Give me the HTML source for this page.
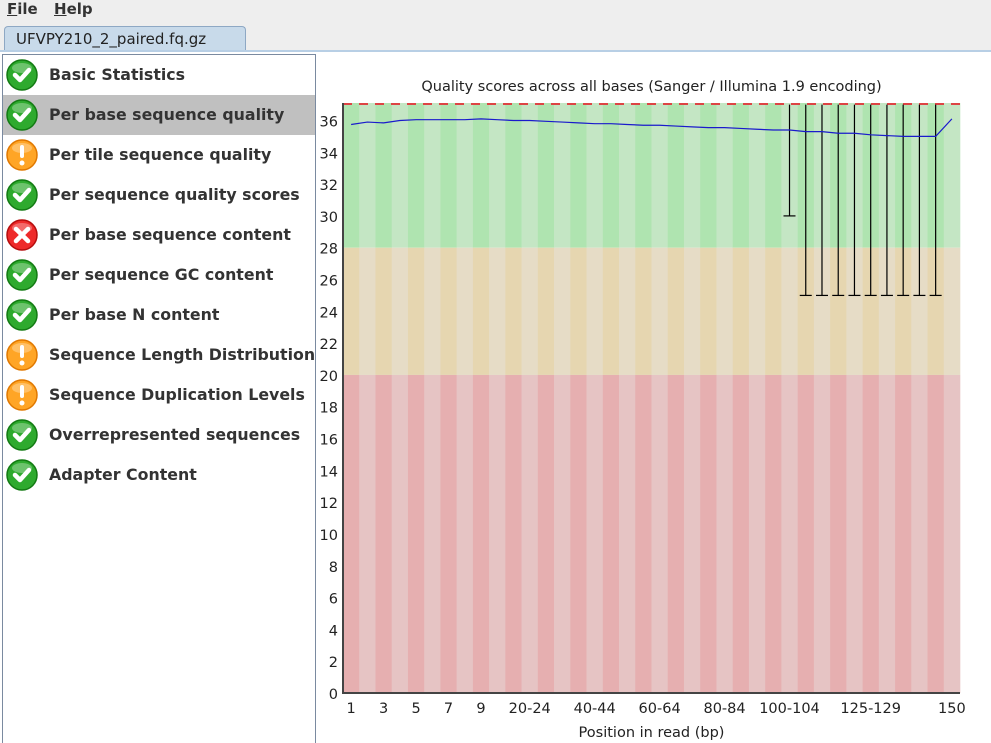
<!DOCTYPE html>
<html><head><meta charset="utf-8"><style>
body{margin:0;width:991px;height:742px;background:#fff;font-family:"DejaVu Sans","Liberation Sans",sans-serif;overflow:hidden;position:relative}
#menubar{position:absolute;left:0;top:0;width:991px;height:22px;background:#eeeeee;font-size:15px}
#menubar span{position:absolute;top:0;font-weight:bold;color:#333}
#tabrow{position:absolute;left:0;top:22px;width:991px;height:28px;background:#eeeeee;border-bottom:2px solid #b8cfe5}
#tab{position:absolute;left:4px;top:4px;width:242px;height:24px;background:#c8daea;border:1px solid #8ea8c4;border-bottom:none;border-radius:4px 4px 0 0;font-size:15px;line-height:24px;padding-left:11px;box-sizing:border-box;color:#222}
#sidebar{position:absolute;left:2px;top:54px;width:312px;height:688px;border:1px solid #7a8aa0;border-bottom:none;background:#fff}
.item{position:absolute;left:0;width:312px;height:40px;font-size:15.8px;font-weight:bold;color:#333;line-height:40px}
.item .t{position:absolute;left:46px;top:0;white-space:nowrap}
.item svg{position:absolute;left:3px;top:4px}
.sel{background:#c0c0c0}
</style></head><body>
<div id="menubar">
<span style="left:7px"><u>F</u>ile</span>
<span style="left:54px"><u>H</u>elp</span>
</div>
<div id="tabrow"><div id="tab">UFVPY210_2_paired.fq.gz</div></div>
<div id="sidebar"></div>
<svg id="chart" width="991" height="742" style="position:absolute;left:0;top:0;pointer-events:none"></svg>
<script>
const modules=[["Basic Statistics","pass"],["Per base sequence quality","pass"],["Per tile sequence quality","warn"],["Per sequence quality scores","pass"],["Per base sequence content","fail"],["Per sequence GC content","pass"],["Per base N content","pass"],["Sequence Length Distribution","warn"],["Sequence Duplication Levels","warn"],["Overrepresented sequences","pass"],["Adapter Content","pass"]];
const sb=document.getElementById('sidebar');
modules.forEach((m,i)=>{
 const d=document.createElement('div');
 d.className='item'+(i==1?' sel':'');
 d.style.top=(i*40)+'px';
 
 
 const col={pass:['#2eaa2e','#137a13'],warn:['#ffa526','#e07800'],fail:['#ee2a2a','#b50d0d']}[m[1]];
 let g='';
 if(m[1]=='pass')g='<path d="M9 16 L14 21 L23 11" stroke="#fff" stroke-width="4.5" fill="none" stroke-linecap="round" stroke-linejoin="round"/>';
 if(m[1]=='warn')g='<rect x="14" y="6" width="4" height="13" rx="2" fill="#fff"/><circle cx="16" cy="24" r="2.5" fill="#fff"/>';
 if(m[1]=='fail')g='<path d="M10 10 L22 22 M22 10 L10 22" stroke="#fff" stroke-width="4.5" stroke-linecap="round"/>';
 d.innerHTML='<svg width="32" height="32"><circle cx="16" cy="16" r="15" fill="'+col[0]+'" stroke="'+col[1]+'" stroke-width="1.5"/><ellipse cx="16" cy="9" rx="10" ry="5" fill="#fff" opacity="0.3"/>'+g+'</svg><span class="t">'+m[0]+'</span>';
 sb.appendChild(d);
});

// chart data
const categories=["1","2","3","4","5","6","7","8","9","10-14","15-19","20-24","25-29","30-34","35-39","40-44","45-49","50-54","55-59","60-64","65-69","70-74","75-79","80-84","85-89","90-94","95-99","100-104","105-109","110-114","115-119","120-124","125-129","130-134","135-139","140-144","145-149","150"];
const meanValues=[35.75,35.9,35.85,36,36.05,36.05,36.05,36.05,36.1,36.05,36,36,35.95,35.9,35.85,35.8,35.8,35.75,35.7,35.7,35.65,35.6,35.55,35.55,35.5,35.45,35.4,35.4,35.3,35.3,35.2,35.2,35.1,35.05,35,35,35,36.1];
const upperWhisker=[37,37,37,37,37,37,37,37,37,37,37,37,37,37,37,37,37,37,37,37,37,37,37,37,37,37,37,37,37,37,37,37,37,37,37,37,37,37];
const lowerWhisker=[37,37,37,37,37,37,37,37,37,37,37,37,37,37,37,37,37,37,37,37,37,37,37,37,37,37,37,30,25,25,25,25,25,25,25,25,25,37];
const yTicks=[0,2,4,6,8,10,12,14,16,18,20,22,24,26,28,30,32,34,36];
const xTickLabels=["1","3","5","7","9","20-24","40-44","60-64","80-84","100-104","125-129","150"];
const title="Quality scores across all bases (Sanger / Illumina 1.9 encoding)";

const L=343,R=960,T=103,B=693,YMAX=37.1;
const NS='http://www.w3.org/2000/svg',svg=document.getElementById('chart');
const bw=(R-L)/categories.length;
const xs=i=>L+(i+0.5)*bw, y=v=>B-(v/YMAX)*(B-T);
function el(t,a,p){const e=document.createElementNS(NS,t);for(const k in a)e.setAttribute(k,a[k]);(p||svg).appendChild(e);return e;}
const bands=[[28,YMAX,['#afe4b0','#c4e6c4']],[20,28,['#e6d6b0','#e6dcc6']],[0,20,['#e6afb0','#e6c4c4']]];
categories.forEach((c,i)=>{bands.forEach(b=>{
 const r=el('rect',{x:L+i*bw,y:y(b[1]),width:bw+0.3,height:y(b[0])-y(b[1]),fill:b[2][i%2]});
 
 
});});
const tl=el('line',{x1:L,x2:R,y1:y(YMAX)+1,y2:y(YMAX)+1,stroke:'#d44',"stroke-width":2,"stroke-dasharray":"9,7"});


categories.forEach((c,i)=>{
 if(lowerWhisker[i]<upperWhisker[i]){
  const g=el('g',{stroke:'#000',"stroke-width":1.2});
  
  
  el('line',{x1:xs(i),x2:xs(i),y1:y(upperWhisker[i]),y2:y(lowerWhisker[i])},g);
  el('line',{x1:xs(i)-6,x2:xs(i)+6,y1:y(lowerWhisker[i]),y2:y(lowerWhisker[i])},g);
 }
});
const ml=el('polyline',{points:meanValues.map((v,i)=>xs(i)+','+y(v)).join(' '),fill:'none',stroke:'#1a1acc',"stroke-width":1.2});


const ax=el('path',{d:`M${L} ${T} V${B} H${R}`,stroke:'#444',"stroke-width":2,fill:'none'});


yTicks.forEach(v=>{const t=el('text',{x:L-5,y:y(v)+6,"text-anchor":"end","font-size":14.5,fill:'#222',"font-family":"DejaVu Sans, sans-serif"});t.textContent=v;
 
 });
xTickLabels.forEach(lb=>{const i=categories.indexOf(lb);const t=el('text',{x:xs(i),y:B+20,"text-anchor":"middle","font-size":14.5,fill:'#222',"font-family":"DejaVu Sans, sans-serif"});t.textContent=lb;
 
 });
const tt=el('text',{x:(L+R)/2,y:91,"text-anchor":"middle","font-size":14.5,fill:'#222',"font-family":"DejaVu Sans, sans-serif"});tt.textContent=title;


const xt=el('text',{x:(L+R)/2,y:737,"text-anchor":"middle","font-size":14.5,fill:'#222',"font-family":"DejaVu Sans, sans-serif"});xt.textContent="Position in read (bp)";


</script>
</body></html>
